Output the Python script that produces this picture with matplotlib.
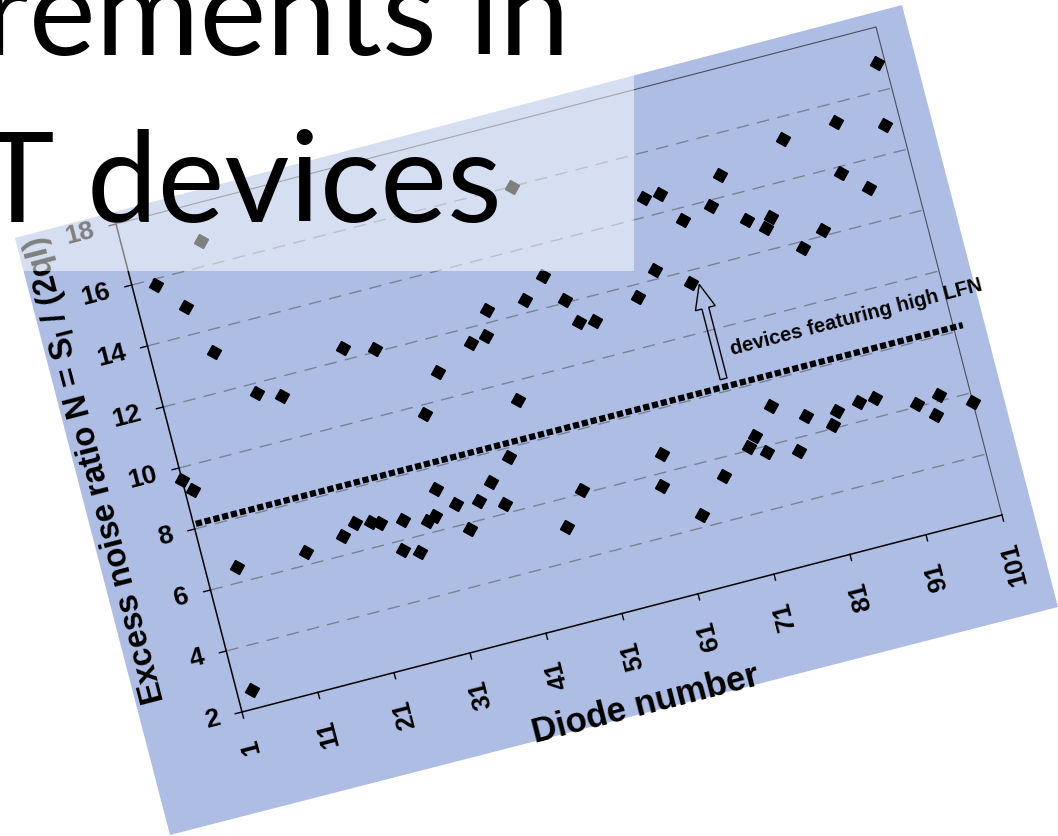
import matplotlib
matplotlib.use("Agg")
import matplotlib.pyplot as plt
import numpy as np
from matplotlib.markers import MarkerStyle
from matplotlib.patches import FancyArrow, Polygon, Rectangle
from matplotlib.transforms import Affine2D

plt.rcParams['font.family'] = ['Liberation Sans', 'DejaVu Sans']
plt.rcParams['mathtext.fontset'] = 'custom'
plt.rcParams['mathtext.rm'] = 'Liberation Sans:bold'
plt.rcParams['mathtext.bf'] = 'Liberation Sans:bold'

# excess noise ratio per diode
diode = [1, 2, 3, 4, 5, 7, 9, 11, 13, 14,
         16, 19, 21, 23, 24, 25, 26, 27, 28, 29,
         30, 31, 32, 33, 34, 35, 36, 37, 39, 40,
         41, 42, 43, 44, 45, 47, 49, 50, 51, 52,
         54, 55, 57, 60, 61, 63, 64, 66, 67, 68,
         69, 70, 71, 72, 73, 74, 75, 76, 77, 78,
         79, 80, 81, 82, 83, 84, 85, 86, 87, 88,
         89, 92, 93, 94, 95, 96, 97, 99, 100, 101]
ratio = [9.6, 9.2, 2.6, 15.8, 6.5, 14.9, 13.3, 16.8, 11.7, 6.4,
         11.4, 6.6, 6.9, 6.8, 6.7, 12.4, 5.7, 6.6, 5.5, 12.1,
         6.4, 6.5, 7.3, 9.7, 6.7, 5.8, 10.9, 6.6, 7.1, 6.3,
         11.5, 7.7, 11.6, 12.4, 9.4, 5.1, 12.4, 6.1, 16.0, 13.0,
         12.1, 11.3, 11.2, 5.6, 6.6, 11.6, 4.4, 12.3, 14.6, 5.4,
         14.6, 11.6, 13.6, 6.1, 6.4, 5.8, 13.8, 7.2, 14.7, 5.6,
         13.1, 6.6, 12.7, 13.0, 6.1, 6.5, 11.8, 15.3, 6.6, 12.2,
         6.6, 13.8, 15.4, 6.1, 13.1, 5.6, 6.2, 14.9, 16.9, 5.7]

x_ticks = [1, 11, 21, 31, 41, 51, 61, 71, 81, 91, 101]
y_ticks = [2, 4, 6, 8, 10, 12, 14, 16, 18]
grid_levels = [4, 6, 8, 10, 12, 14, 16]
threshold = 8.15

TILT = 14.5
BLUE = '#aebde3'

fig = plt.figure(figsize=(10.58, 8.36), dpi=100)
page = fig.add_axes([0, 0, 1, 1])
page.set_xlim(0, 1058)
page.set_ylim(836, 0)
page.axis('off')

# the pasted chart picture, tilted on the slide
picture = Polygon([(15, 238), (902, 5), (1058, 607), (170, 835)], closed=True,
                  fc=BLUE, ec='none', zorder=0)
page.add_patch(picture)

# chart units -> slide pixels, origin (diode 1, ratio 2)
ox, oy = 242, 712
ux = (7.6, -1.97)
uy = (-7.875, -30.5)
m = np.array([[ux[0], uy[0], ox - ux[0] - 2 * uy[0]],
              [ux[1], uy[1], oy - ux[1] - 2 * uy[1]],
              [0, 0, 1]])
chart = Affine2D(m) + page.transData

for g in grid_levels:
    page.plot([1, 101], [g, g], transform=chart, color='#7b8297', lw=1.0,
              dashes=(9, 6), zorder=1)

page.plot([1, 101, 101], [18, 18, 2], transform=chart, color='#4a4f5c', lw=0.8, zorder=2)
page.plot([1, 1, 101], [18, 2, 2], transform=chart, color='black', lw=1.1, zorder=2)

for t in x_ticks:
    page.plot([t, t], [2, 1.8], transform=chart, color='black', lw=1.0, zorder=2)
    page.text(t, 1.1, str(t), transform=chart, rotation=TILT + 90, rotation_mode='anchor',
              ha='right', va='center', fontsize=19, fontweight='bold')
for t in y_ticks:
    page.plot([0.1, 1], [t, t], transform=chart, color='black', lw=1.0, zorder=2)
    page.text(-1.9, t, str(t), transform=chart, rotation=TILT, rotation_mode='anchor',
              ha='right', va='center', fontsize=19, fontweight='bold')

page.plot([1.3, 102.2], [threshold, threshold], transform=chart, color='black', lw=4.5,
          dashes=(1, 0.45), dash_capstyle='butt', zorder=3)

diamond = MarkerStyle('D', transform=Affine2D().rotate_deg(TILT))
page.plot(diode, ratio, transform=chart, ls='none', marker=diamond, ms=7,
          color='black', zorder=4)

page.add_patch(FancyArrow(71, 8.4, 0, 3.1, width=0.9, head_width=2.6, head_length=0.78,
                          length_includes_head=True, transform=chart, fc='none',
                          ec='black', lw=1.0, zorder=4))
# the note runs past the edge of the pasted picture and is cut there
note = page.text(72.8, 9.05, 'devices featuring high LFN', transform=chart, rotation=TILT,
                 rotation_mode='anchor', ha='left', va='baseline', fontsize=14.6,
                 fontweight='bold', zorder=4, clip_on=True)
note.set_clip_path(picture)

page.text(51, -1.0, 'Diode number', transform=chart, rotation=TILT, rotation_mode='anchor',
          ha='center', va='center', fontsize=25, fontweight='bold')
page.text(-9.4, 10.6, 'Excess noise ratio N = S$_\\mathbf{I}$ / (2qI)', transform=chart,
          rotation=TILT + 90, rotation_mode='anchor', ha='center', va='center',
          fontsize=23.5, fontweight='bold')

# translucent title box of the slide
page.add_patch(Rectangle((-5, -5), 639, 276, fc='white', alpha=0.5, ec='none', zorder=5))
page.text(570, 55, 'rements in', ha='right', va='baseline', fontsize=91, family='Lato',
          color='black', zorder=6)
page.text(502, 222, 'T devices', ha='right', va='baseline', fontsize=91, family='Lato',
          color='black', zorder=6)

fig.savefig('out.png', dpi=100)
